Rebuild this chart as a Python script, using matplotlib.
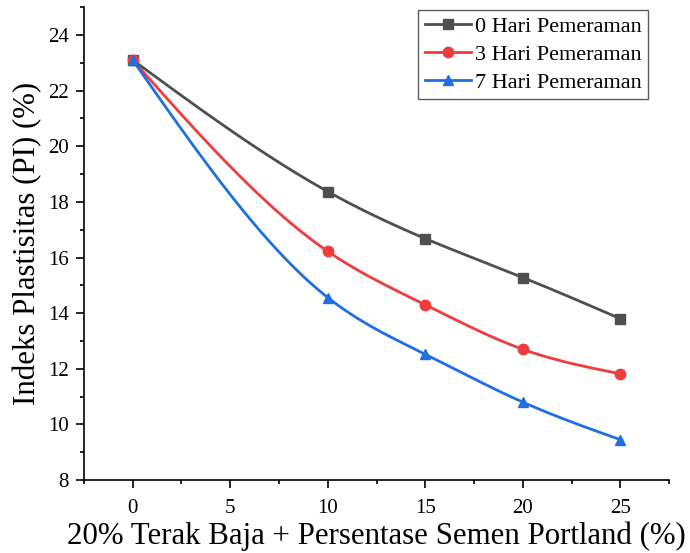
import numpy as np
import matplotlib
matplotlib.use("Agg")
import matplotlib.pyplot as plt
from matplotlib.ticker import MultipleLocator

x = [0, 10, 15, 20, 25]
pi_0 = [23.1, 18.37, 16.68, 15.28, 13.8]
pi_3 = [23.1, 16.22, 14.3, 12.7, 11.82]
pi_7 = [23.1, 14.56, 12.52, 10.8, 9.45]
labels = ["0 Hari Pemeraman", "3 Hari Pemeraman", "7 Hari Pemeraman"]
colors = ["#4f4f4f", "#f03c3c", "#1f6fe0"]
markers = ["s", "o", "^"]


def natural_spline(xs, ys, n=300):
    xs = np.asarray(xs, float)
    ys = np.asarray(ys, float)
    m = len(xs)
    h = np.diff(xs)
    A = np.zeros((m, m))
    b = np.zeros(m)
    A[0, 0] = 1
    A[-1, -1] = 1
    for i in range(1, m - 1):
        A[i, i - 1] = h[i - 1]
        A[i, i] = 2 * (h[i - 1] + h[i])
        A[i, i + 1] = h[i]
        b[i] = 6 * ((ys[i + 1] - ys[i]) / h[i] - (ys[i] - ys[i - 1]) / h[i - 1])
    M = np.linalg.solve(A, b)
    xx = np.linspace(xs[0], xs[-1], n)
    yy = np.empty_like(xx)
    for k, t in enumerate(xx):
        i = min(np.searchsorted(xs, t, side="right") - 1, m - 2)
        i = max(i, 0)
        dx1 = xs[i + 1] - t
        dx0 = t - xs[i]
        hi = h[i]
        yy[k] = (M[i] * dx1 ** 3 / (6 * hi) + M[i + 1] * dx0 ** 3 / (6 * hi)
                 + (ys[i] / hi - M[i] * hi / 6) * dx1
                 + (ys[i + 1] / hi - M[i + 1] * hi / 6) * dx0)
    return xx, yy


plt.rcParams["font.family"] = ["Liberation Serif", "DejaVu Serif"]

fig = plt.figure(figsize=(6.9, 5.53), dpi=100)
ax = fig.add_axes([0.1217, 0.132, 0.848, 0.855])

for ys, lab, c, mk in zip([pi_0, pi_3, pi_7], labels, colors, markers):
    xx, yy = natural_spline(x, ys)
    ax.plot(xx, yy, color=c, lw=2, zorder=2)
    ax.plot(x, ys, linestyle="none", marker=mk, color=c, markersize=7.5, zorder=3)
    ax.plot([], [], color=c, lw=2, marker=mk, markersize=7.5, label=lab)

ax.set_xlim(-2.5, 27.5)
ax.set_ylim(8, 25)
ax.xaxis.set_major_locator(MultipleLocator(5))
ax.xaxis.set_minor_locator(MultipleLocator(2.5))
ax.yaxis.set_major_locator(MultipleLocator(2))
ax.yaxis.set_minor_locator(MultipleLocator(1))
ax.spines["top"].set_visible(False)
ax.spines["right"].set_visible(False)
for s in ["left", "bottom"]:
    ax.spines[s].set_linewidth(1.2)
ax.tick_params(which="major", direction="out", length=6, width=1.2, labelsize=15, pad=5)
ax.tick_params(which="minor", direction="out", length=3, width=1.2)
ax.tick_params(axis="x", which="major", pad=8)

ax.set_xlabel("20% Terak Baja + Persentase Semen Portland (%)", fontsize=22.2, labelpad=2)
ax.set_ylabel("Indeks Plastisitas (PI) (%)", fontsize=22.2, labelpad=4)

handles, labs = ax.get_legend_handles_labels()
leg = fig.legend(handles, labs, loc="upper right", bbox_to_anchor=(648 / 690, 1 - 10 / 553), fontsize=16,
                 frameon=True, fancybox=False, edgecolor="#333333", handlelength=2.1, handletextpad=0.15,
                 borderpad=0.3, labelspacing=0.32, borderaxespad=0.0)
leg.get_frame().set_linewidth(1.0)

fig.savefig("out.png", dpi=100)
